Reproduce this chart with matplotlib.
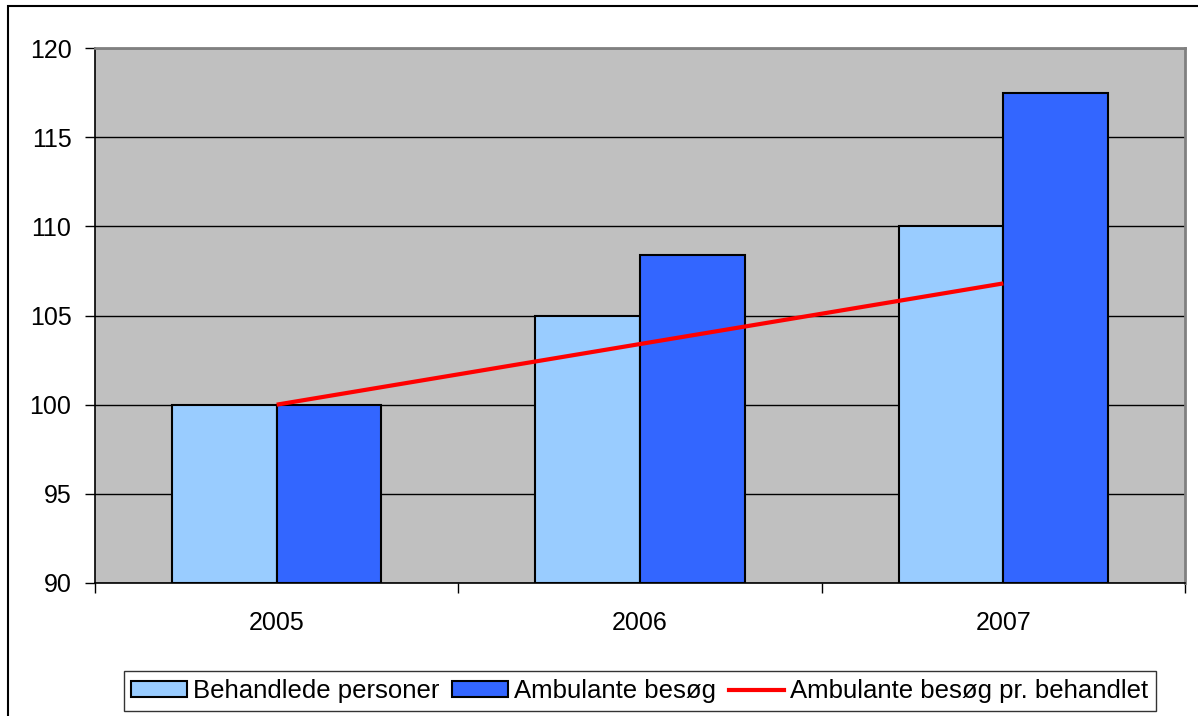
import numpy as np
import matplotlib.pyplot as plt
from matplotlib.patches import Rectangle
from matplotlib.lines import Line2D

plt.rcParams["font.family"] = ["Liberation Sans", "DejaVu Sans"]

years = ["2005", "2006", "2007"]
behandlede = [100.0, 105.0, 110.0]
ambulante = [100.0, 108.4, 117.5]
pr_behandlet = [100.0, 103.4, 106.8]

LIGHT = "#99CCFF"
DARK = "#3366FF"
RED = "#FF0000"

W, H = 1198, 716
fig = plt.figure(figsize=(W / 100, H / 100), dpi=100)
ax = fig.add_axes([95 / W, 1 - 583 / H, (1185 - 95) / W, (583 - 48) / H])
ax.set_facecolor("#C0C0C0")

x = np.arange(len(years))
bw = 0.288
ax.bar(x - bw / 2, [v - 90 for v in behandlede], bw, bottom=90, color=LIGHT,
       edgecolor="black", lw=1.5, zorder=2)
ax.bar(x + bw / 2, [v - 90 for v in ambulante], bw, bottom=90, color=DARK,
       edgecolor="black", lw=1.5, zorder=2)
ax.plot(x, pr_behandlet, color=RED, lw=3, zorder=3, solid_capstyle="butt")

ax.set_xlim(-0.5, 2.5)
ax.set_ylim(90, 120)
ax.set_yticks(np.arange(90, 121, 5))
ax.set_xticks([-0.5, 0.5, 1.5, 2.5])
ax.set_xticklabels([])
ax.set_xticks(x, minor=True)
ax.set_xticklabels(years, minor=True)
ax.tick_params(axis="x", which="minor", length=0, pad=20, labelsize=18)
ax.tick_params(axis="x", which="major", length=7, width=1, direction="out")
ax.tick_params(axis="y", length=7, width=1, direction="out", pad=10, labelsize=18)
ax.yaxis.grid(True, color="black", lw=1)
ax.set_axisbelow(True)
for s in ["left", "bottom"]:
    ax.spines[s].set_color("black")
    ax.spines[s].set_linewidth(1.2)
for s in ["top", "right"]:
    ax.spines[s].set_color("#808080")
    ax.spines[s].set_linewidth(2)

# outer chart frame
fig.patches.append(Rectangle((8 / W, -0.1), 1.2, 1 - 6 / H + 0.1,
                             transform=fig.transFigure, fill=False,
                             edgecolor="black", lw=1.5))

handles = [
    Rectangle((0, 0), 1, 1, facecolor=LIGHT, edgecolor="black", lw=1.5),
    Rectangle((0, 0), 1, 1, facecolor=DARK, edgecolor="black", lw=1.5),
    Line2D([0], [0], color=RED, lw=3),
]
labels = ["Behandlede personer", "Ambulante besøg", "Ambulante besøg pr. behandlet"]
leg = fig.legend(handles, labels, loc="center", ncol=3,
                 bbox_to_anchor=(640 / W, 1 - 691 / H), fontsize=18.5,
                 frameon=True, fancybox=False, edgecolor="black",
                 handlelength=2.15, handleheight=0.55, handletextpad=0.25,
                 columnspacing=0.5, borderpad=0.3, borderaxespad=0)
leg.get_frame().set_linewidth(1)

fig.savefig("out.png", dpi=100)
